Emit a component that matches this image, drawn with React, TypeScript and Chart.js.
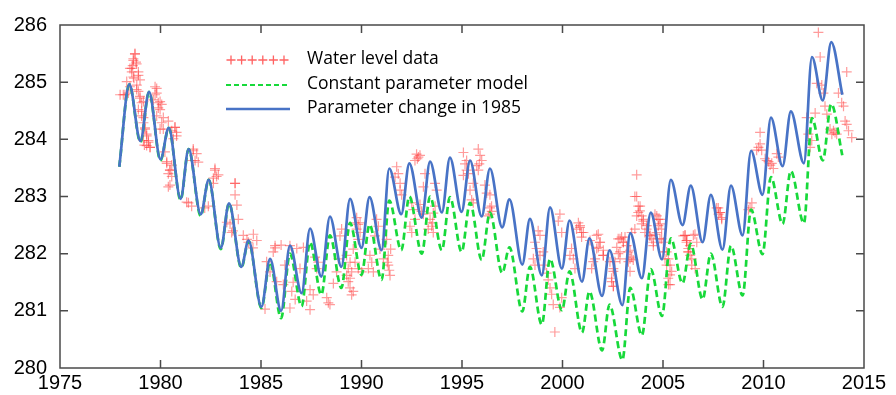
import React, { useEffect, useRef } from 'react';
import { Chart, registerables } from 'chart.js';

Chart.register(...registerables);

// ---- axis ticks ----
const X_TICKS = [1975, 1980, 1985, 1990, 1995, 2000, 2005, 2010, 2015];
const Y_TICKS = [280, 281, 282, 283, 284, 285, 286];

const LEGEND_LABELS = ['Water level data', 'Constant parameter model', 'Parameter change in 1985'];

// ---- model curves: years of each seasonal peak / trough ----
const MODEL_YEARS = [
  1977.95, 1978.45, 1979.0, 1979.43, 1980.0, 1980.41, 1981.0, 1981.4, 1982.0, 1982.4,
  1983.0, 1983.41, 1984.02, 1984.38, 1985.02, 1985.45, 1986.0, 1986.44, 1987.02, 1987.44,
  1988.0, 1988.43, 1989.0, 1989.43, 1990.0, 1990.4, 1991.0, 1991.38, 1991.98, 1992.38,
  1993.0, 1993.41, 1994.0, 1994.4, 1994.98, 1995.4, 1995.98, 1996.39, 1997.0, 1997.36,
  1998.0, 1998.38, 1998.97, 1999.38, 1999.97, 2000.35, 2000.97, 2001.34, 2001.97, 2002.34,
  2002.98, 2003.37, 2003.95, 2004.39, 2004.95, 2005.39, 2005.97, 2006.38, 2006.97, 2007.38,
  2007.96, 2008.38, 2008.96, 2009.38, 2009.95, 2010.37, 2010.95, 2011.36, 2012.01, 2012.41,
  2012.95, 2013.37, 2013.92,
];

// Parameter change in 1985 (blue)
const CHANGE_MODEL = [
  283.52, 284.96, 283.97, 284.83, 283.65, 284.2, 282.96, 283.83, 282.69, 283.29,
  282.1, 282.88, 281.77, 282.23, 281.07, 281.91, 281.0, 282.14, 281.31, 282.44,
  281.6, 282.65, 281.77, 282.96, 282.1, 282.99, 282.06, 283.49, 282.69, 283.58,
  282.63, 283.61, 282.72, 283.68, 282.73, 283.63, 282.65, 283.49, 282.46, 282.95,
  281.81, 282.61, 281.62, 282.81, 281.74, 282.58, 281.51, 282.27, 281.26, 282.06,
  281.1, 282.36, 281.57, 282.72, 281.9, 283.29, 282.5, 283.19, 282.2, 283.03,
  282.07, 283.19, 282.32, 283.8, 283.03, 284.38, 283.53, 284.49, 283.58, 285.44,
  284.68, 285.7, 284.78,
];

// Constant parameter model (green)
const CONSTANT_MODEL = [
  283.52, 284.96, 283.95, 284.83, 283.63, 284.2, 282.94, 283.83, 282.66, 283.29,
  282.08, 282.88, 281.75, 282.22, 281.05, 281.85, 280.87, 282.0, 281.08, 282.2,
  281.28, 282.32, 281.4, 282.54, 281.63, 282.51, 281.54, 282.93, 282.06, 283.0,
  282.0, 283.0, 282.06, 282.99, 282.03, 282.89, 281.89, 282.72, 281.66, 282.11,
  280.99, 281.77, 280.76, 281.91, 281.01, 281.69, 280.62, 281.34, 280.31, 281.11,
  280.14, 281.4, 280.57, 281.73, 280.91, 282.27, 281.48, 282.17, 281.2, 282.0,
  281.07, 282.14, 281.27, 282.77, 281.99, 283.34, 282.52, 283.45, 282.53, 284.37,
  283.63, 284.62, 283.72,
];

// ---- observed water level data ----
const OBS_YEARS = [
  1978.73, 1978.65, 1978.62, 1978.78, 1978.57, 1978.68, 1978.82, 1978.15, 1978.4, 1978.9,
  1978.98, 1979.15, 1979.15, 1979.23, 1979.31, 1979.4, 1979.48, 1979.81, 1979.73, 1979.98,
  1979.89, 1980.06, 1980.14, 1980.39, 1980.56, 1980.72, 1980.8, 1980.31, 1980.47, 1980.56,
  1980.39, 1981.63, 1981.72, 1981.39, 1981.55, 1982.71, 1982.79, 1982.63, 1982.38, 1983.71,
  1983.71, 1983.46, 1983.54, 1983.87, 1984.12, 1984.62, 1984.79, 1984.37, 1985.7, 1985.61,
  1985.28, 1985.45, 1985.78, 1985.2, 1986.44, 1986.78, 1986.19, 1986.11, 1986.53, 1986.44,
  1978.48, 1978.9, 1978.32, 1977.99, 1979.06, 1979.15, 1979.2, 1981.3, 1982.2, 1983.3,
  1983.6, 1983.8, 1984.3, 1984.6, 1985.7, 1986.0, 1986.6, 1986.7,
  1987.11, 1986.94, 1987.44, 1987.6, 1987.44, 1987.27, 1987.69, 1987.85, 1987.77, 1988.27,
  1988.35, 1988.43, 1988.6, 1988.76, 1988.85, 1989.01, 1988.93, 1989.26, 1989.34, 1989.43,
  1989.43, 1989.51, 1989.26, 1989.76, 1989.84, 1989.93, 1989.84, 1989.68, 1989.59, 1989.68,
  1989.84, 1990.01, 1990.42, 1990.51, 1990.59, 1990.34, 1990.75, 1990.84, 1990.67, 1990.92,
  1991.09, 1991.33, 1991.42, 1991.33, 1991.45, 1991.25, 1991.75, 1991.83, 1991.67, 1991.92,
  1991.92, 1992.0, 1992.5, 1992.58, 1992.66, 1992.41, 1992.5, 1992.74, 1992.83, 1992.66,
  1992.91, 1993.16, 1993.08, 1992.91, 1992.99, 1993.08, 1993.41, 1993.49, 1993.57, 1993.32,
  1993.66, 1993.74, 1993.66, 1993.57, 1995.07, 1995.15, 1995.23, 1995.07, 1995.32, 1995.81,
  1995.9, 1995.98, 1995.73, 1995.81, 1995.56, 1995.4, 1995.48, 1995.56, 1996.14, 1996.23,
  1996.39, 1996.48, 1996.31,
  1996.39, 1996.47, 1996.39, 2003.69, 2003.6, 2003.77, 2003.85, 2003.69, 2004.02, 2003.94,
  2004.18, 2004.35, 2004.6, 2004.76, 2004.85, 2004.68, 2004.93, 2004.52, 2005.01, 2005.1,
  2005.35, 2005.43, 2005.26, 2005.35, 2006.09, 2006.17, 2006.26, 1999.87, 1999.79, 1999.96,
  1998.79, 1998.88, 1998.63, 1998.71, 1998.88, 1999.04, 1998.55, 1998.63, 1999.13, 1999.21,
  1999.29, 1999.38, 1999.46, 1999.54, 1999.62, 2000.79, 2000.87, 2000.95, 2000.7, 2000.45,
  2000.54, 2000.62, 2000.37, 2001.37, 2001.78, 2001.86, 2001.7, 2002.03, 2002.36, 2002.53,
  2002.44, 2002.53, 2002.77, 2002.94, 2003.02, 2003.19, 2002.86, 2003.27, 2003.36, 2003.44,
  2003.6, 1999.96, 1999.87,
  2006.1, 2006.18, 2006.51, 2006.26, 2006.35, 2006.43, 2006.6, 2006.68, 2007.67, 2007.84,
  2007.92, 2007.76, 2009.42, 2009.25, 2009.33, 2009.83, 2009.75, 2009.66, 2009.91, 2010.08,
  2010.16, 2010.41, 2010.49, 2010.33, 2010.66, 2010.74, 2012.15, 2012.23, 2012.4, 2012.32,
  2012.57, 2012.73, 2012.82, 2012.65, 2012.9, 2012.98, 2013.06, 2013.15, 2013.48, 2013.4,
  2013.56, 2013.73, 2013.89, 2013.98, 2014.14, 2014.06, 2014.14, 2014.23, 2014.39,
  // denser clusters
  1978.73, 1978.65, 1978.81, 1978.57, 1978.9, 1978.65, 1978.98, 1978.48, 1978.81, 1978.23,
  1978.98, 1979.06, 1978.9, 1979.06, 1979.15, 1979.23, 1979.31, 1979.4, 1979.48, 1979.31,
  1979.73, 1979.81, 1979.64, 1979.89, 1979.98, 1979.81, 1980.06, 1979.98, 1980.14, 1980.72,
  1980.8, 1980.64, 1980.22, 1980.31, 1980.47, 1980.39, 1980.56, 1980.47, 1981.63, 1981.8,
  1981.55, 1981.88, 1982.71, 1982.63, 1982.88, 1983.71,
  2000.87, 2001.04, 2000.95, 2001.7, 2001.87, 2001.78, 2002.03, 2001.53, 2001.45, 2001.62,
  2002.03, 2002.53, 2002.45, 2002.53, 2002.86, 2003.03, 2002.7, 2003.11, 2002.78, 2002.61,
  2002.86, 2003.36, 2003.44, 2003.28, 2003.52, 2003.36, 2003.69, 2003.86, 2003.77, 2003.94,
  2004.02, 2004.19, 2004.1, 2004.35, 2004.69, 2004.85, 2004.77, 2004.93, 2004.6, 2004.85,
  2004.44, 2004.52, 2005.02, 2005.18, 2005.27, 2005.18, 2005.35, 2005.27, 2006.01, 2006.18,
  2006.34, 2006.59, 2006.26, 2006.43, 2007.75, 2007.84, 2007.92,
  1989.43, 1989.51, 1989.34, 1989.59, 1989.93, 1989.76, 1991.38, 1991.28, 1992.78, 1993.54,
  1995.23, 1995.86, 2013.31, 2013.64, 2009.83, 2010.25,
];

const OBS_LEVELS = [
  285.49, 285.41, 285.29, 285.35, 285.18, 285.07, 284.95, 284.78, 284.81, 284.84,
  284.72, 284.66, 284.38, 284.2, 284.09, 283.98, 283.86, 284.89, 284.78, 284.66,
  284.55, 284.61, 284.38, 284.32, 284.15, 284.21, 284.12, 283.58, 283.46, 283.35,
  283.17, 283.8, 283.63, 282.89, 282.83, 283.49, 283.35, 283.23, 282.83, 283.23,
  283.03, 282.52, 282.37, 282.6, 282.32, 282.34, 282.23, 282.2, 282.14, 282.03,
  281.86, 281.68, 281.51, 281.03, 282.14, 282.09, 281.8, 281.46, 281.34, 281.05,
  285.24, 285.12, 285.01, 284.78, 284.49, 283.98, 283.9, 282.9, 282.8, 282.55,
  282.4, 282.85, 282.25, 282.1, 282.1, 282.15, 281.5, 281.2,
  282.11, 281.74, 281.37, 281.28, 281.02, 281.17, 281.94, 281.85, 281.74, 281.23,
  281.14, 281.11, 281.48, 281.68, 281.91, 282.43, 282.31, 281.97, 281.74, 281.57,
  281.4, 281.28, 281.62, 282.63, 282.51, 282.37, 282.25, 282.54, 282.08, 281.85,
  281.74, 281.68, 281.97, 281.85, 281.68, 281.74, 282.6, 282.48, 282.31, 282.08,
  281.91, 281.8, 281.62, 281.97, 282.08, 282.25, 283.52, 283.4, 283.34, 283.23,
  283.11, 283.03, 282.89, 282.77, 282.6, 282.48, 282.37, 283.74, 283.69, 283.63,
  283.72, 283.4, 283.17, 282.86, 282.74, 282.69, 282.6, 282.48, 282.37, 282.43,
  283.23, 283.11, 282.83, 282.71, 283.77, 283.57, 283.46, 283.37, 283.4, 283.83,
  283.72, 283.63, 283.54, 283.46, 283.23, 283.11, 282.94, 282.89, 283.2, 283.06,
  282.8, 282.74, 282.66,
  283.03, 282.83, 282.69, 283.38, 283.0, 282.83, 282.75, 282.66, 282.6, 282.52,
  282.43, 282.32, 282.69, 282.6, 282.52, 282.37, 282.26, 282.2, 282.03, 281.91,
  281.8, 281.69, 281.57, 281.46, 282.32, 282.2, 282.03, 282.69, 282.57, 282.37,
  282.4, 282.32, 282.2, 282.09, 281.97, 282.03, 281.91, 281.8, 281.8, 281.66,
  281.54, 281.4, 281.29, 281.11, 280.63, 282.54, 282.46, 282.37, 282.43, 282.09,
  281.91, 281.74, 281.97, 282.23, 282.34, 282.2, 282.09, 281.97, 281.86, 281.74,
  281.57, 281.43, 282.26, 282.29, 282.2, 282.14, 282.03, 282.03, 281.91, 282.37,
  282.43, 281.23, 281.06,
  282.32, 282.23, 282.32, 282.09, 281.97, 281.8, 281.74, 282.2, 282.8, 282.72,
  282.6, 282.69, 282.89, 282.77, 282.8, 284.12, 283.86, 283.81, 283.81, 283.66,
  283.63, 283.58, 283.49, 283.55, 283.75, 283.69, 284.38, 284.09, 283.98, 283.86,
  284.46, 285.87, 285.44, 284.98, 284.95, 284.81, 284.58, 284.44, 284.15, 284.09,
  284.12, 284.81, 284.64, 284.58, 285.18, 284.32, 284.26, 284.15, 284.03,
  // denser clusters
  285.5, 285.38, 285.32, 285.24, 285.18, 285.09, 285.04, 284.92, 284.87, 284.78,
  284.75, 284.64, 284.52, 284.41, 284.29, 284.18, 284.06, 283.95, 283.86, 283.89,
  284.92, 284.81, 284.69, 284.64, 284.52, 284.41, 284.29, 284.18, 284.18, 284.21,
  284.06, 284.01, 283.78, 283.61, 283.46, 283.4, 283.55, 283.2, 283.83, 283.75,
  283.63, 283.6, 283.46, 283.32, 283.38, 283.23,
  282.49, 282.37, 282.29, 282.32, 282.2, 282.11, 282.06, 281.86, 281.74, 281.91,
  281.97, 281.69, 281.51, 281.43, 282.26, 282.2, 282.11, 282.29, 282.0, 281.86,
  281.91, 282.06, 281.94, 281.86, 281.89, 281.69, 283.0, 282.83, 282.72, 282.66,
  282.57, 282.49, 282.37, 282.31, 282.66, 282.6, 282.49, 282.43, 282.34, 282.26,
  282.26, 282.14, 282.2, 282.03, 281.91, 281.8, 281.63, 281.46, 282.31, 282.23,
  282.14, 282.34, 282.03, 281.91, 282.8, 282.72, 282.63,
  281.85, 281.68, 281.51, 281.34, 282.54, 282.43, 281.71, 281.85, 283.66, 282.54,
  283.63, 283.57, 284.18, 284.09, 283.92, 283.61,
];

const RED = 'rgba(255, 55, 55, 0.5)';
const GREEN = '#17d93a';
const BLUE = '#4873c6';

const decorPlugin = {
  id: 'decor',
  afterDraw(chart: any) {
    const { ctx, chartArea: a, scales } = chart;
    const xs = scales.x;
    const ys = scales.y;
    ctx.save();
    // frame
    ctx.strokeStyle = '#4a4a4a';
    ctx.lineWidth = 1.5;
    ctx.strokeRect(a.left, a.top, a.right - a.left, a.bottom - a.top);
    // inward ticks on all four sides
    const TL = 8;
    ctx.beginPath();
    X_TICKS.forEach((v) => {
      if (v === X_TICKS[0] || v === X_TICKS[X_TICKS.length - 1]) return;
      const p = xs.getPixelForValue(v);
      ctx.moveTo(p, a.bottom);
      ctx.lineTo(p, a.bottom - TL);
      ctx.moveTo(p, a.top);
      ctx.lineTo(p, a.top + TL);
    });
    Y_TICKS.forEach((v) => {
      if (v === Y_TICKS[0] || v === Y_TICKS[Y_TICKS.length - 1]) return;
      const p = ys.getPixelForValue(v);
      ctx.moveTo(a.left, p);
      ctx.lineTo(a.left + TL, p);
      ctx.moveTo(a.right, p);
      ctx.lineTo(a.right - TL, p);
    });
    ctx.stroke();

    // legend
    const lx = a.left + 166;
    const lw = 64;
    const rows = [a.top + 35, a.top + 60, a.top + 84];
    ctx.strokeStyle = 'rgba(255, 45, 45, 0.75)';
    ctx.lineWidth = 1.3;
    for (let i = 0; i < 6; i++) {
      const cx = lx + 5 + i * 10.6;
      const cy = rows[0];
      ctx.beginPath();
      ctx.moveTo(cx - 4.5, cy);
      ctx.lineTo(cx + 4.5, cy);
      ctx.moveTo(cx, cy - 4.5);
      ctx.lineTo(cx, cy + 4.5);
      ctx.stroke();
    }
    ctx.strokeStyle = GREEN;
    ctx.lineWidth = 2;
    ctx.setLineDash([5, 3]);
    ctx.beginPath();
    ctx.moveTo(lx, rows[1]);
    ctx.lineTo(lx + lw, rows[1]);
    ctx.stroke();
    ctx.setLineDash([]);
    ctx.strokeStyle = BLUE;
    ctx.lineWidth = 2.5;
    ctx.beginPath();
    ctx.moveTo(lx, rows[2]);
    ctx.lineTo(lx + lw, rows[2]);
    ctx.stroke();
    ctx.fillStyle = '#000';
    ctx.font = '17.5px "Open Sans"';
    ctx.textBaseline = 'middle';
    ctx.textAlign = 'left';
    LEGEND_LABELS.forEach((t, i) => {
      ctx.fillText(t, lx + 81, rows[i] - 1);
    });
    ctx.restore();
  },
};

export default function App() {
  const ref = useRef<HTMLCanvasElement>(null);

  useEffect(() => {
    if (!ref.current) return;
    const obs = OBS_YEARS.map((x, i) => ({ x, y: OBS_LEVELS[i] }));
    const constant = MODEL_YEARS.map((x, i) => ({ x, y: CONSTANT_MODEL[i] }));
    const change = MODEL_YEARS.map((x, i) => ({ x, y: CHANGE_MODEL[i] }));
    const tickFont = { family: '"Liberation Sans", Arial, sans-serif', size: 20 };

    const chart = new Chart(ref.current, {
      type: 'scatter',
      data: {
        datasets: [
          {
            label: LEGEND_LABELS[2],
            data: change,
            showLine: true,
            borderColor: BLUE,
            borderWidth: 2.7,
            pointRadius: 0,
            cubicInterpolationMode: 'monotone',
            order: 1,
          } as any,
          {
            label: LEGEND_LABELS[1],
            data: constant,
            showLine: true,
            borderColor: GREEN,
            borderWidth: 2.7,
            borderDash: [7, 4],
            pointRadius: 0,
            cubicInterpolationMode: 'monotone',
            order: 2,
          } as any,
          {
            label: LEGEND_LABELS[0],
            data: obs,
            showLine: false,
            pointStyle: 'cross',
            pointRadius: 5,
            borderColor: RED,
            borderWidth: 1.2,
            backgroundColor: RED,
            order: 3,
          } as any,
        ],
      },
      options: {
        animation: false,
        responsive: false,
        layout: { padding: { top: 19, right: 32, bottom: 0, left: 0 } },
        plugins: { legend: { display: false }, tooltip: { enabled: false } },
        scales: {
          x: {
            type: 'linear',
            min: 1975,
            max: 2015,
            grid: { display: false, drawTicks: false },
            border: { display: false },
            afterBuildTicks: (s: any) => {
              s.ticks = X_TICKS.map((v) => ({ value: v }));
            },
            afterFit: (s: any) => {
              s.height = 27;
            },
            ticks: {
              font: tickFont,
              color: '#000',
              padding: 3,
              maxRotation: 0,
              autoSkip: false,
              callback: (v: any) => String(v),
            },
          },
          y: {
            type: 'linear',
            min: 280,
            max: 286,
            grid: { display: false, drawTicks: false },
            border: { display: false },
            afterBuildTicks: (s: any) => {
              s.ticks = Y_TICKS.map((v) => ({ value: v }));
            },
            afterFit: (s: any) => {
              s.width = 60;
            },
            ticks: {
              font: tickFont,
              color: '#000',
              padding: 13,
              autoSkip: false,
              callback: (v: any) => String(v),
            },
          },
        },
      },
      plugins: [decorPlugin],
    });
    return () => chart.destroy();
  }, []);

  return (
    <canvas
      ref={ref}
      width={896}
      height={395}
      style={{ position: 'fixed', left: 0, top: 0, width: 896, height: 395, display: 'block' }}
    />
  );
}
